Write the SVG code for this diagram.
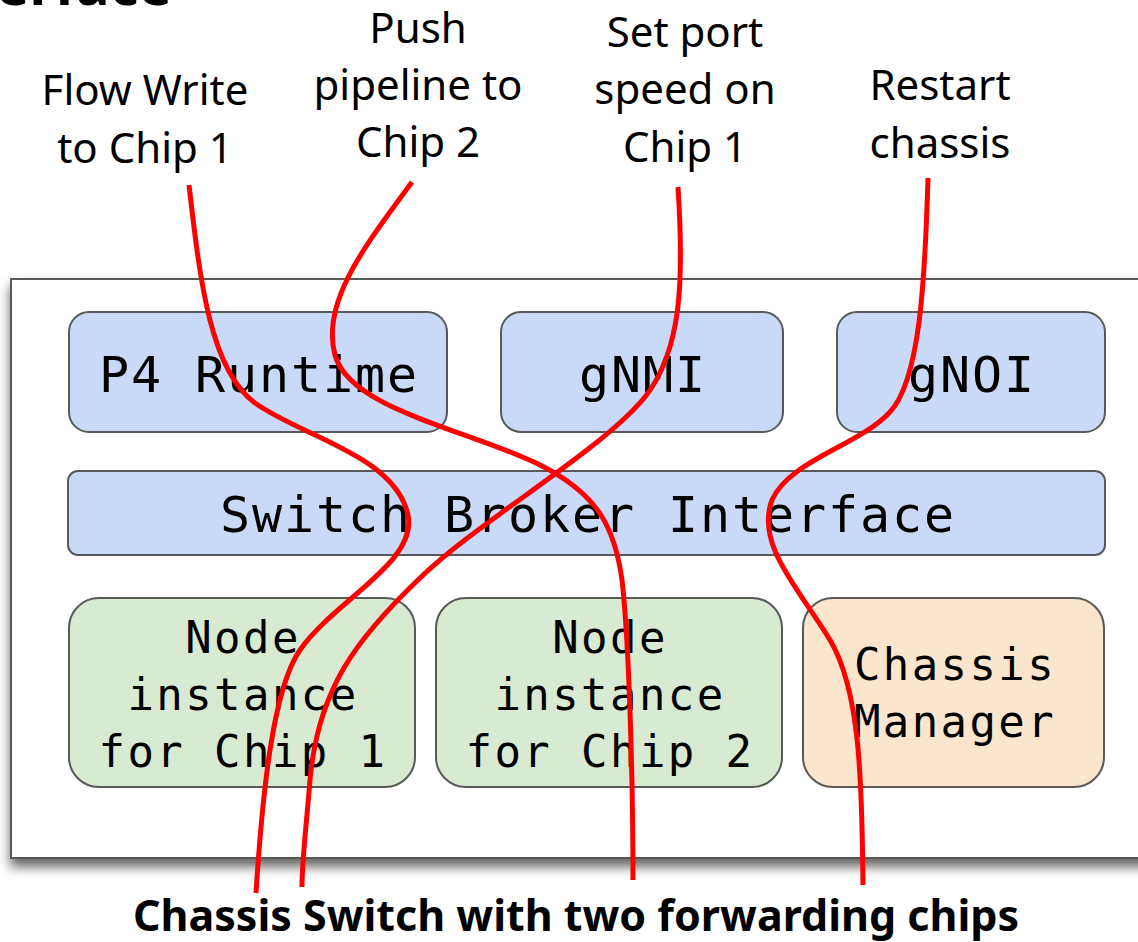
<svg xmlns="http://www.w3.org/2000/svg" width="1138" height="942" viewBox="0 0 1138 942">
<defs>
<filter id="sh" x="-5%" y="-5%" width="115%" height="115%">
<feDropShadow dx="0" dy="8" stdDeviation="6" flood-color="#000" flood-opacity="0.6"/>
</filter>
<style>
.lbl{font-family:"Noto Sans","Open Sans",sans-serif;font-size:42px;fill:#000;text-anchor:middle}
.mono{font-family:"DejaVu Sans Mono","Liberation Mono",monospace;font-size:50px;letter-spacing:1.9px;fill:#000;text-anchor:middle}
.mono.sm{font-size:44px;letter-spacing:2.4px}
.blue{fill:#c9daf8;stroke:#595959;stroke-width:2}
.green{fill:#d9ead3;stroke:#595959;stroke-width:2}
.orange{fill:#fce5cd;stroke:#595959;stroke-width:2}
.wire{fill:none;stroke:#ff0000;stroke-width:5;stroke-linecap:butt}
.title{font-family:"Noto Sans","Open Sans",sans-serif;font-weight:bold;fill:#000}
</style>
</defs>
<rect width="1138" height="942" fill="#fff"/>
<text class="title" x="172" y="5" font-size="56" text-anchor="end">Interface</text>
<g id="chassis">
<rect x="11" y="279" width="1140" height="579" fill="#fff" stroke="#595959" stroke-width="2" filter="url(#sh)"/>
</g>
<g id="p4runtime"><rect class="blue" x="69" y="312" width="378" height="120" rx="20"/><text class="mono" x="259" y="392">P4 Runtime</text></g>
<g id="gnmi"><rect class="blue" x="501" y="312" width="282" height="120" rx="20"/><text class="mono" x="643" y="392">gNMI</text></g>
<g id="gnoi"><rect class="blue" x="837" y="312" width="268" height="120" rx="20"/><text class="mono" x="972" y="392">gNOI</text></g>
<g id="broker"><rect class="blue" x="68" y="471" width="1037" height="84" rx="10"/><text class="mono" x="588" y="532">Switch Broker Interface</text></g>
<g id="node1"><rect class="green" x="69" y="598" width="346" height="189" rx="30"/><text class="mono sm" x="243" y="653">Node</text><text class="mono sm" x="243" y="710">instance</text><text class="mono sm" x="243" y="767">for Chip 1</text></g>
<g id="node2"><rect class="green" x="436" y="598" width="346" height="189" rx="30"/><text class="mono sm" x="610" y="653">Node</text><text class="mono sm" x="610" y="710">instance</text><text class="mono sm" x="610" y="767">for Chip 2</text></g>
<g id="chassismgr"><rect class="orange" x="803" y="598" width="301" height="189" rx="30"/><text class="mono sm" x="955" y="680">Chassis</text><text class="mono sm" x="955" y="737">Manager</text></g>
<g id="labels">
<g id="lbl-flow"><text class="lbl" x="145" y="105">Flow Write</text><text class="lbl" x="145" y="163">to Chip 1</text></g>
<g id="lbl-push"><text class="lbl" x="418" y="43">Push</text><text class="lbl" x="418" y="100">pipeline to</text><text class="lbl" x="418" y="157">Chip 2</text></g>
<g id="lbl-port"><text class="lbl" x="685" y="47">Set port</text><text class="lbl" x="685" y="104">speed on</text><text class="lbl" x="685" y="162">Chip 1</text></g>
<g id="lbl-restart"><text class="lbl" x="940" y="100">Restart</text><text class="lbl" x="940" y="158">chassis</text></g>
</g>
<g id="connectors">
<path class="wire" d="M189,185 C200,280 210,370 255,403 C300,436 395,455 408,515 C418,562 335,600 300,650 C272,690 262,800 256,893"/>
<path class="wire" d="M412,182 C370,240 320,300 335,355 C350,410 470,430 540,465 C600,495 615,530 622,580 C630,650 633,800 633,880"/>
<path class="wire" d="M678,187 C684,280 682,350 645,397 C600,452 480,520 420,578 C355,640 318,690 310,780 C306,830 302,860 302,887"/>
<path class="wire" d="M928,178 C925,280 920,380 890,412 C860,445 790,460 772,500 C755,545 800,590 830,640 C860,690 862,780 863,885"/>
</g>
<text class="title" x="576" y="931" font-size="43" text-anchor="middle">Chassis Switch with two forwarding chips</text>
</svg>
